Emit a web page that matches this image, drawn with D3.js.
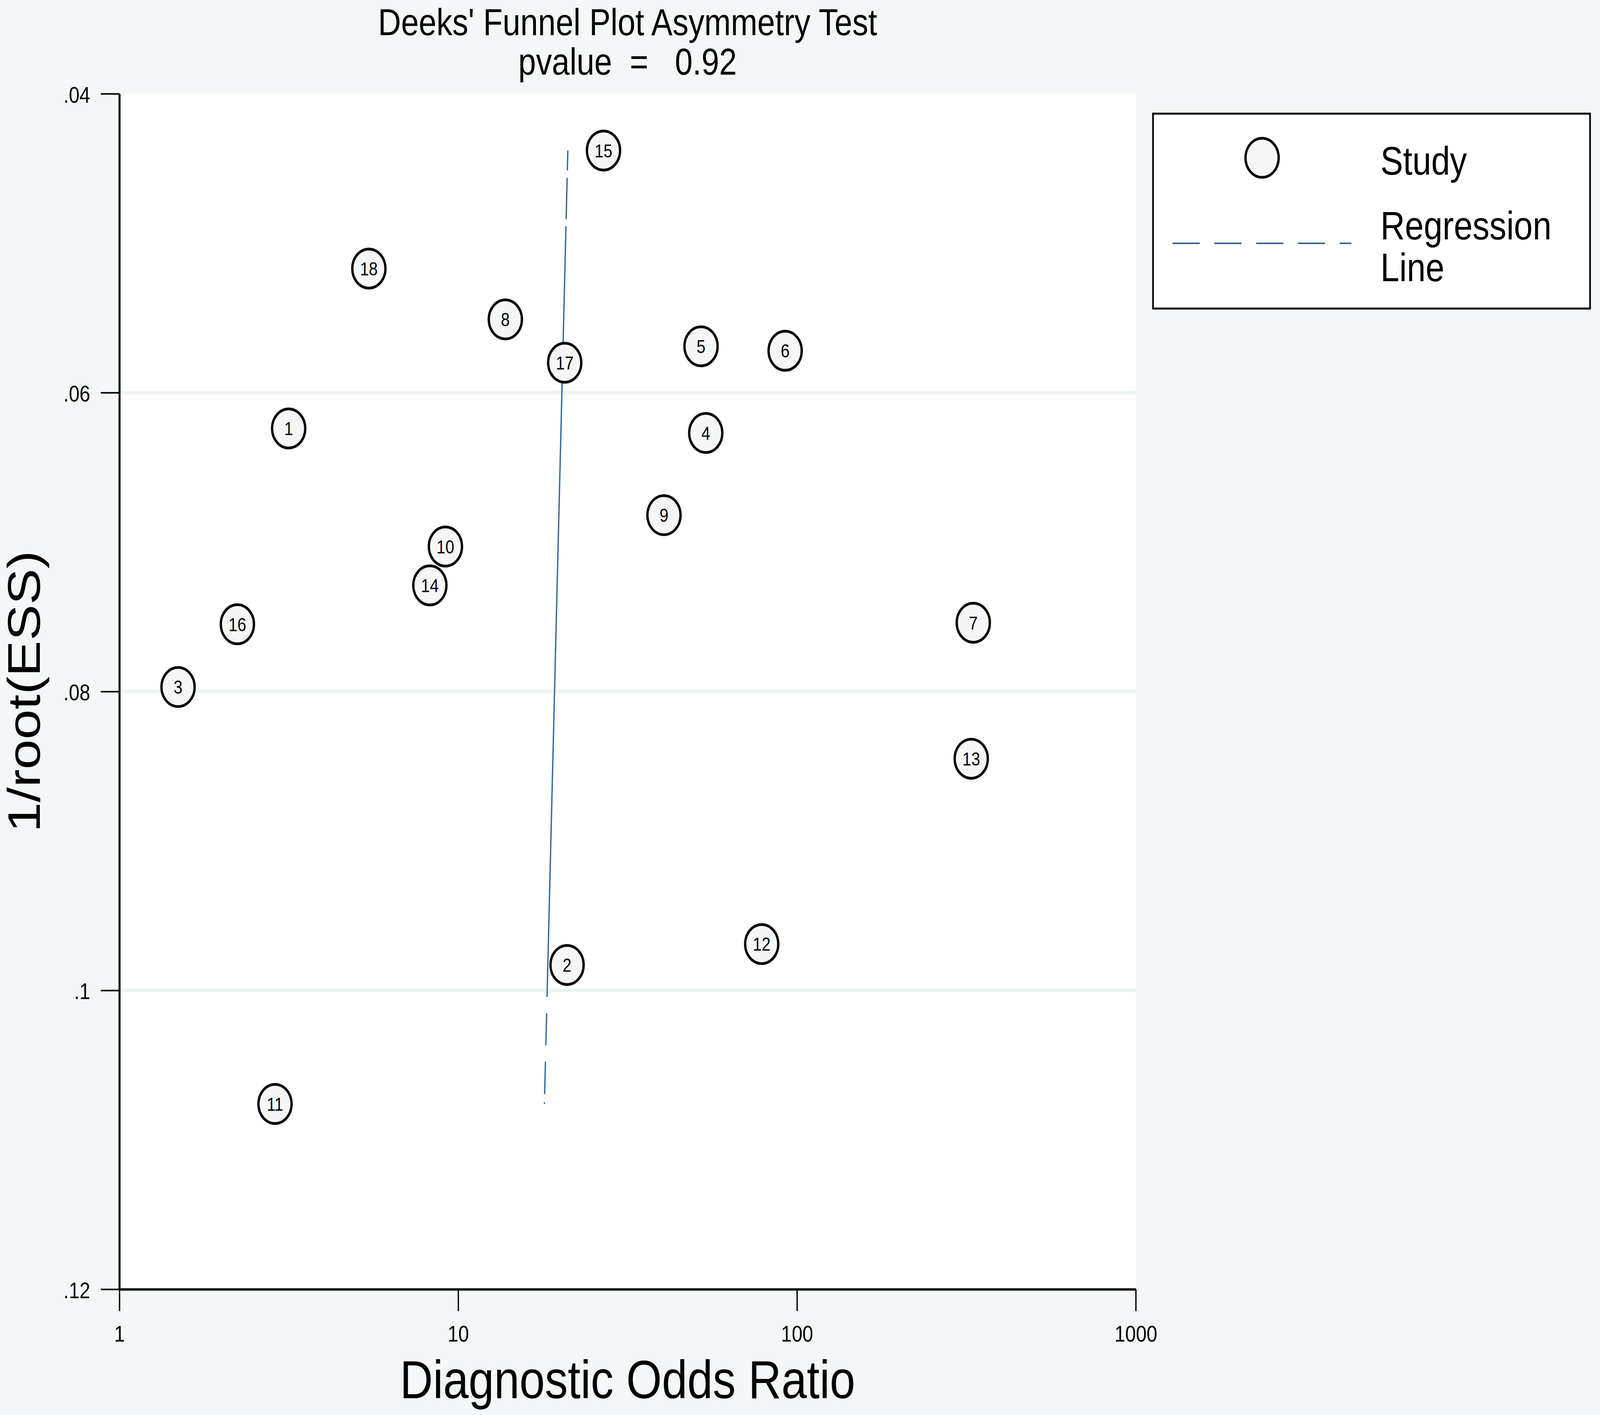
<!DOCTYPE html>
<html>
<head>
<meta charset="utf-8">
<script src="https://cdn.jsdelivr.net/npm/d3@7"></script>
<style>
  html, body { margin: 0; padding: 0; overflow: hidden; background: #f3f7f8; }
  svg { display: block; width: 100vw; height: 100vh; font-family: "Liberation Sans", Arial, Helvetica, sans-serif; }
</style>
</head>
<body>
<div id="canvas"></div>
<script>
// study data
var studyIds = [1, 2, 3, 4, 5, 6, 7, 8, 9, 10, 11, 12, 13, 14, 15, 16, 17, 18];
var studyDOR = [3.16, 20.96, 1.49, 53.8, 52.1, 92.3, 331.5, 13.78, 40.5, 9.17, 2.88, 78.7, 326.9, 8.25, 26.85, 2.23, 20.63, 5.45];
var studyInvRootESS = [0.0624, 0.0983, 0.0797, 0.0627, 0.0569, 0.0572, 0.0754, 0.0551, 0.0682, 0.0703, 0.1076, 0.0969, 0.0845, 0.0729, 0.0438, 0.0755, 0.0580, 0.0517];

// regression line end points (top / bottom study)
var regInvRootESS = [0.0438, 0.1076];
var regDOR = [21.07, 17.97];

var xTicks = [1, 10, 100, 1000];
var xTickLabels = ["1", "10", "100", "1000"];
var yTicks = [0.04, 0.06, 0.08, 0.1, 0.12];
var yTickLabels = [".04", ".06", ".08", ".1", ".12"];
var yGrid = [0.06, 0.08, 0.1];

var W = 4825, H = 3623;
var plotLeft = 360, plotRight = 3425, plotTop = 240, plotBottom = 3301;
var lineBlue = "#33699a";

// drawn in a fixed 4825x3623 frame, stretched to whatever the window is
var svg = d3.select("#canvas")
    .append("svg")
    .attr("viewBox", "0 0 " + W + " " + H)
    .attr("preserveAspectRatio", "none");

svg.append("rect")
    .attr("width", W)
    .attr("height", H)
    .attr("fill", "#f3f7f8");

var x = d3.scaleLog().domain([1, 1000]).range([plotLeft, plotRight]);
var y = d3.scaleLinear().domain([0.04, 0.12]).range([plotTop, plotBottom]);

// plot region
svg.append("rect")
    .attr("x", plotLeft)
    .attr("y", plotTop)
    .attr("width", plotRight - plotLeft)
    .attr("height", plotBottom - plotTop)
    .attr("fill", "#ffffff");

svg.selectAll(".grid")
    .data(yGrid)
    .join("line")
    .attr("class", "grid")
    .attr("x1", plotLeft)
    .attr("x2", plotRight)
    .attr("y1", function (d) { return y(d); })
    .attr("y2", function (d) { return y(d); })
    .attr("stroke", "#eef3f5")
    .attr("stroke-width", 9);

// regression line (dashes only show at both ends in the original)
var regPts = regDOR.map(function (d, i) { return [d, regInvRootESS[i]]; });
svg.append("path")
    .attr("d", d3.line()
        .x(function (d) { return x(d[0]); })
        .y(function (d) { return y(d[1]); })(regPts))
    .attr("fill", "none")
    .attr("stroke", lineBlue)
    .attr("stroke-width", 4)
    .attr("stroke-dasharray", "51 19 106 18 1974 42 82 42 83 21");

// axes
var yAxis = d3.axisLeft(y)
    .tickValues(yTicks)
    .tickFormat(function (d, i) { return yTickLabels[i]; })
    .tickSize(56)
    .tickSizeOuter(0)
    .tickPadding(32);
var gy = svg.append("g")
    .attr("transform", "translate(" + plotLeft + ",0)")
    .call(yAxis);

var xAxis = d3.axisBottom(x)
    .tickValues(xTicks)
    .tickFormat(function (d, i) { return xTickLabels[i]; })
    .tickSize(56)
    .tickSizeOuter(0)
    .tickPadding(37);
var gx = svg.append("g")
    .attr("transform", "translate(0," + plotBottom + ")")
    .call(xAxis);

[gx, gy].forEach(function (g) {
    g.select(".domain").attr("stroke", "#000").attr("stroke-width", 6);
    g.selectAll(".tick line").attr("stroke", "#000").attr("stroke-width", 4);
    g.selectAll(".tick text")
        .attr("fill", "#000")
        .style("font-family", "'Liberation Sans', Arial, sans-serif")
        .style("font-size", "58px");
});
gy.selectAll(".tick text").attr("dy", "0.38em");

// study markers
var studies = studyIds.map(function (id, i) {
    return { id: id, dor: studyDOR[i], v: studyInvRootESS[i] };
});
var marks = svg.selectAll(".study")
    .data(studies)
    .join("g")
    .attr("class", "study")
    .attr("transform", function (d) { return "translate(" + x(d.dor) + "," + y(d.v) + ")"; });
marks.append("circle")
    .attr("r", 50)
    .attr("fill", "#f6f6f6")
    .attr("stroke", "#000")
    .attr("stroke-width", 7);
marks.append("text")
    .attr("text-anchor", "middle")
    .attr("dy", "0.36em")
    .style("font-size", "48px")
    .attr("fill", "#000")
    .text(function (d) { return d.id; });

// titles
var cx = (plotLeft + plotRight) / 2;
svg.append("text")
    .attr("x", cx)
    .attr("y", 90)
    .attr("text-anchor", "middle")
    .style("font-size", "96px")
    .text("Deeks' Funnel Plot Asymmetry Test");
svg.append("text")
    .attr("x", cx)
    .attr("y", 191)
    .attr("text-anchor", "middle")
    .style("font-size", "96px")
    .style("white-space", "pre")
    .attr("xml:space", "preserve")
    .text("pvalue  =   0.92");

svg.append("text")
    .attr("x", cx)
    .attr("y", 3580)
    .attr("text-anchor", "middle")
    .style("font-size", "138px")
    .text("Diagnostic Odds Ratio");

svg.append("text")
    .attr("transform", "translate(120," + ((plotTop + plotBottom) / 2) + ") rotate(-90)")
    .attr("text-anchor", "middle")
    .style("font-size", "138px")
    .text("1/root(ESS)");

// legend
var legend = svg.append("g");
legend.append("rect")
    .attr("x", 3477)
    .attr("y", 291)
    .attr("width", 1318)
    .attr("height", 499)
    .attr("fill", "#ffffff")
    .attr("stroke", "#000")
    .attr("stroke-width", 5);
legend.append("circle")
    .attr("cx", 3806)
    .attr("cy", 404)
    .attr("r", 50)
    .attr("fill", "#f6f6f6")
    .attr("stroke", "#000")
    .attr("stroke-width", 7);
legend.append("line")
    .attr("x1", 3536)
    .attr("x2", 4075)
    .attr("y1", 623)
    .attr("y2", 623)
    .attr("stroke", lineBlue)
    .attr("stroke-width", 4)
    .attr("stroke-dasharray", "82 44");
legend.append("text")
    .attr("x", 4163)
    .attr("y", 447)
    .style("font-size", "102px")
    .text("Study");
legend.append("text")
    .attr("x", 4163)
    .attr("y", 613)
    .style("font-size", "102px")
    .text("Regression");
legend.append("text")
    .attr("x", 4163)
    .attr("y", 720)
    .style("font-size", "102px")
    .text("Line");
</script>
</body>
</html>
